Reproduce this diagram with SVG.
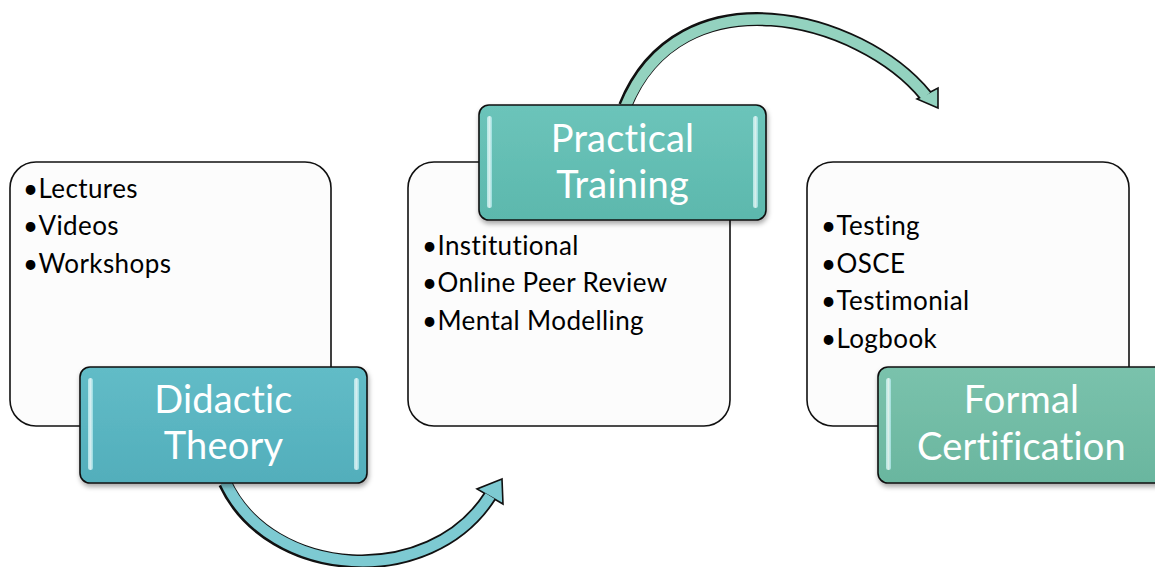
<svg xmlns="http://www.w3.org/2000/svg" width="1155" height="567" viewBox="0 0 1155 567">
<style>
text{font-variant-ligatures:none;font-feature-settings:"liga" 0,"clig" 0,"dlig" 0,"calt" 0}
.box{fill:#FCFCFC;stroke:#111;stroke-width:1.6}
.lbl{stroke:#111;stroke-width:1.6}
.bul{font-family:Lato,"Open Sans",sans-serif;font-size:26px;letter-spacing:0.4px;fill:#000}
.ttl{font-family:Lato,"Open Sans",sans-serif;font-size:38px;letter-spacing:0.2px;fill:#fff;text-anchor:middle}
.hl{fill:url(#hlg);opacity:0.75}
.edge{fill:none;stroke:#111;stroke-width:14}
.head{stroke:#111;stroke-width:1.6;stroke-linejoin:miter}
</style>
<defs>
<linearGradient id="g1" x1="0" y1="0" x2="0" y2="1"><stop offset="0" stop-color="#62BCC7"/><stop offset="1" stop-color="#52AEBB"/></linearGradient>
<linearGradient id="g2" x1="0" y1="0" x2="0" y2="1"><stop offset="0" stop-color="#6CC4BA"/><stop offset="1" stop-color="#5CB8AD"/></linearGradient>
<linearGradient id="g3" x1="0" y1="0" x2="0" y2="1"><stop offset="0" stop-color="#7AC2AC"/><stop offset="1" stop-color="#6AB69F"/></linearGradient>
<linearGradient id="hlg" x1="0" y1="0" x2="1" y2="0"><stop offset="0" stop-color="#C8F4F6"/><stop offset="0.5" stop-color="#FFFFFF"/><stop offset="1" stop-color="#A8E8EC"/></linearGradient>
<filter id="sh" x="-10%" y="-10%" width="125%" height="130%"><feDropShadow dx="1" dy="3" stdDeviation="2.5" flood-color="#000" flood-opacity="0.35"/></filter>
</defs>

<g id="connectors">
  <g id="arrow-bottom">
    <path class="edge" d="M225,483 C270,580 430,590 490,496"/>
    <polygon class="head" fill="#7DCAD2" points="502,479 477,489 503,504"/>
    <path fill="none" stroke="#7DCAD2" stroke-width="10.5" d="M225,481 C270,580 430,590 490,496"/>
  </g>
  <g id="arrow-top">
    <path class="edge" d="M625,106 C680,-30 860,15 926,96"/>
    <polygon class="head" fill="#93D2BF" points="938,108 917,99 938,88"/>
    <path fill="none" stroke="#93D2BF" stroke-width="10.5" d="M625,108 C680,-30 860,15 926,96"/>
  </g>
</g>

<g id="node-didactic">
  <rect class="box" x="10" y="162" width="321" height="264" rx="26"/>
  <text class="bul" x="23" y="198">•Lectures</text>
  <text class="bul" x="23" y="235">•Videos</text>
  <text class="bul" x="23" y="273">•Workshops</text>
  <rect class="lbl" x="80" y="367" width="287" height="116" rx="10" fill="url(#g1)" filter="url(#sh)"/>
  <rect class="hl" x="88" y="378" width="5" height="92" rx="2.5"/>
  <rect class="hl" x="354" y="378" width="5" height="92" rx="2.5"/>
  <text class="ttl" x="223.5" y="413">Didactic</text>
  <text class="ttl" x="223.5" y="459">Theory</text>
</g>

<g id="node-practical">
  <rect class="box" x="408" y="162" width="322" height="264" rx="26"/>
  <text class="bul" x="422" y="255">•Institutional</text>
  <text class="bul" x="422" y="292">•Online Peer Review</text>
  <text class="bul" x="422" y="330">•Mental Modelling</text>
  <rect class="lbl" x="479" y="105" width="287" height="115" rx="10" fill="url(#g2)" filter="url(#sh)"/>
  <rect class="hl" x="487" y="116" width="5" height="92" rx="2.5"/>
  <rect class="hl" x="753" y="116" width="5" height="92" rx="2.5"/>
  <text class="ttl" x="622.5" y="152">Practical</text>
  <text class="ttl" x="622.5" y="198">Training</text>
</g>

<g id="node-formal">
  <rect class="box" x="807" y="162" width="322" height="264" rx="26"/>
  <text class="bul" x="821" y="235">•Testing</text>
  <text class="bul" x="821" y="273">•OSCE</text>
  <text class="bul" x="821" y="310">•Testimonial</text>
  <text class="bul" x="821" y="348">•Logbook</text>
  <rect class="lbl" x="878" y="367" width="287" height="116" rx="10" fill="url(#g3)" filter="url(#sh)"/>
  <rect class="hl" x="886" y="378" width="5" height="92" rx="2.5"/>
  <text class="ttl" x="1021.5" y="413">Formal</text>
  <text class="ttl" x="1021.5" y="460">Certification</text>
</g>
</svg>
